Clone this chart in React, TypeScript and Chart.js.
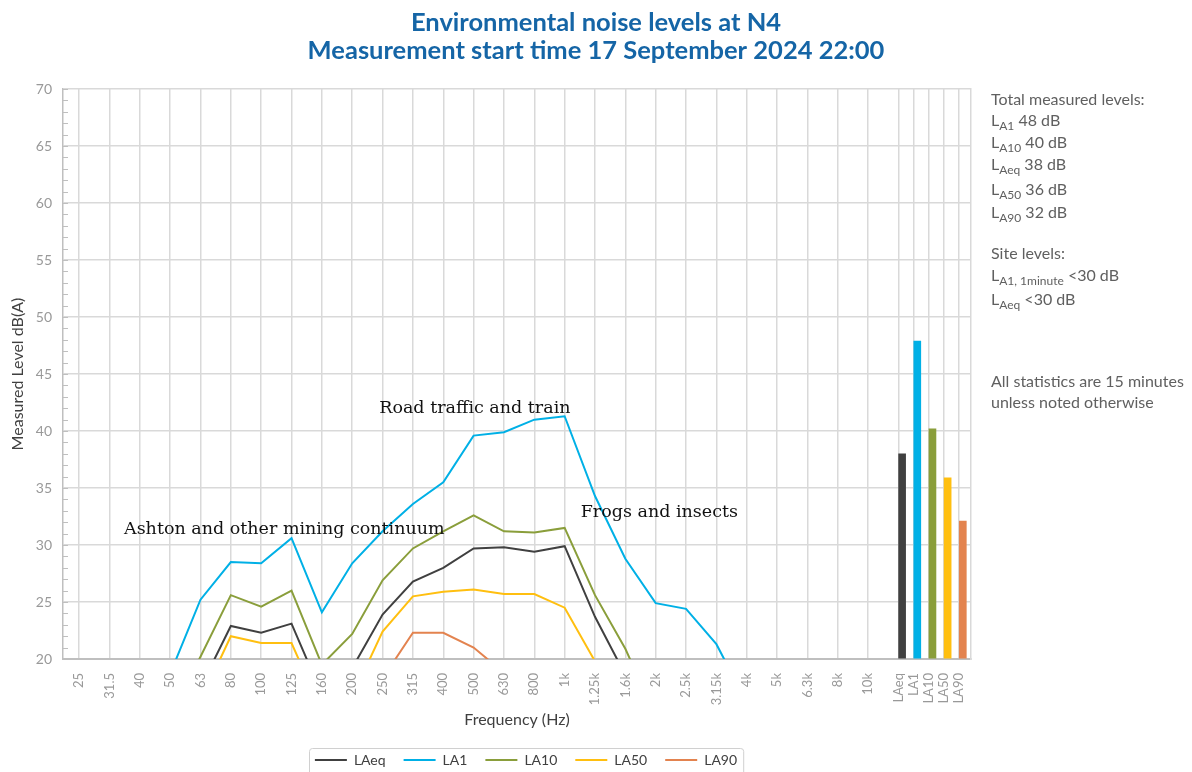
import React, { useEffect, useRef } from "react";
import { Chart, registerables } from "chart.js";

Chart.register(...registerables);

// ---------- data ----------
const freqLabels = [
  "25", "31.5", "40", "50", "63", "80", "100", "125", "160", "200", "250", "315", "400",
  "500", "630", "800", "1k", "1.25k", "1.6k", "2k", "2.5k", "3.15k", "4k", "5k", "6.3k", "8k", "10k",
];
const statLabels = ["LAeq", "LA1", "LA10", "LA50", "LA90"];
const seriesNames = ["LAeq", "LA1", "LA10", "LA50", "LA90"];

const LAeq = [null, null, null, null, 17.5, 22.9, 22.3, 23.1, 16.9, 19.2, 23.9, 26.8, 28.0, 29.7, 29.8, 29.4, 29.9, 23.7, 18.6, null, null, null, null, null, null, null, null];
const LA1 = [null, null, null, 18.7, 25.2, 28.5, 28.4, 30.6, 24.1, 28.4, 31.2, 33.6, 35.5, 39.6, 39.9, 41.0, 41.3, 34.3, 28.8, 24.9, 24.4, 21.3, 16.2, null, null, null, null];
const LA10 = [null, null, null, 15.0, 20.2, 25.6, 24.6, 26.0, 19.5, 22.2, 26.9, 29.7, 31.2, 32.6, 31.2, 31.1, 31.5, 25.6, 20.9, 15.0, null, null, null, null, null, null, null];
const LA50 = [null, null, null, null, 16.3, 22.0, 21.4, 21.4, 15.4, 16.7, 22.4, 25.5, 25.9, 26.1, 25.7, 25.7, 24.5, 19.8, null, null, null, null, null, null, null, null, null];
const LA90 = [null, null, null, null, null, null, null, null, null, null, 18.3, 22.3, 22.3, 21.0, 18.8, null, null, null, null, null, null, null, null, null, null, null, null];
const seriesValues = [LAeq, LA1, LA10, LA50, LA90];

const totalLevels = [38.0, 47.9, 40.2, 35.9, 32.1];

const yMin = 20;
const yMax = 70;
const yStep = 5;

const titleLines = ["Environmental noise levels at N4", "Measurement start time 17 September 2024 22:00"];
const annotationTexts = ["Ashton and other mining continuum", "Road traffic and train", "Frogs and insects"];

// ---------- styling / layout ----------
const seriesColors = ["#404040", "#00b0e6", "#8a9e3b", "#ffbf10", "#e3834f"];
const annotationAnchors = [
  { x: 1.48, y: 30.96 },
  { x: 9.89, y: 41.55 },
  { x: 16.53, y: 32.43 },
];
const gridColor = "#d9d9d9";
const axisLineColor = "#bfbfbf";
const tickColor = "#999999";
const statSpacing = 0.5;
const barShift = 0.12;

const statPositions = statLabels.map((_, k) => freqLabels.length + k * statSpacing);
const tickPositions = [...freqLabels.map((_, i) => i), ...statPositions];
const allLabels = [...freqLabels, ...statLabels];

Chart.defaults.font.family = "Lato";

const minorTickPlugin = {
  id: "minorTicks",
  afterDraw(chart: any) {
    const { ctx, chartArea, scales } = chart;
    const y = scales.y;
    ctx.save();
    ctx.strokeStyle = axisLineColor;
    ctx.lineWidth = 1;
    for (let v = yMin; v <= yMax; v += 1) {
      const py = Math.round(y.getPixelForValue(v)) + 0.5;
      ctx.beginPath();
      ctx.moveTo(chartArea.left, py);
      ctx.lineTo(chartArea.left + 5, py);
      ctx.stroke();
    }
    ctx.restore();
  },
};

const annotationPlugin = {
  id: "annotText",
  afterDatasetsDraw(chart: any) {
    const { ctx, scales } = chart;
    ctx.save();
    ctx.font = '17.5px "DejaVu Serif"';
    ctx.fillStyle = "#111111";
    ctx.textAlign = "left";
    ctx.textBaseline = "alphabetic";
    annotationTexts.forEach((t, i) => {
      ctx.fillText(t, scales.x.getPixelForValue(annotationAnchors[i].x), scales.y.getPixelForValue(annotationAnchors[i].y));
    });
    ctx.restore();
  },
};

const legendShift = 9;
const legendBoxPlugin = {
  id: "legendBox",
  afterLayout(chart: any) {
    const lg = chart.legend;
    if (lg) {
      lg.left += legendShift;
      lg.right += legendShift;
    }
  },
  afterDraw(chart: any) {
    const lg = chart.legend;
    if (!lg || !lg.legendHitBoxes || !lg.legendHitBoxes.length) return;
    const boxes = lg.legendHitBoxes;
    const minL = Math.min(...boxes.map((b: any) => b.left));
    const maxR = Math.max(...boxes.map((b: any) => b.left + b.width));
    const cy = boxes[0].top + boxes[0].height / 2;
    const { ctx } = chart;
    ctx.save();
    ctx.strokeStyle = "#d0d0d0";
    ctx.lineWidth = 1;
    ctx.beginPath();
    (ctx as any).roundRect(Math.round(minL - 6) + 0.5, Math.round(cy - 12) + 0.5, maxR - minL + 12, 40, 3);
    ctx.stroke();
    ctx.restore();
  },
};

const sideLines: { top: number; parts: { L?: string; sub?: string; text: string } }[] = [
  { top: 99, parts: { text: "Total measured levels:" } },
  { top: 120, parts: { L: "L", sub: "A1", text: " 48 dB" } },
  { top: 142, parts: { L: "L", sub: "A10", text: " 40 dB" } },
  { top: 164, parts: { L: "L", sub: "Aeq", text: " 38 dB" } },
  { top: 189, parts: { L: "L", sub: "A50", text: " 36 dB" } },
  { top: 212, parts: { L: "L", sub: "A90", text: " 32 dB" } },
  { top: 253, parts: { text: "Site levels:" } },
  { top: 275, parts: { L: "L", sub: "A1, 1minute", text: " <30 dB" } },
  { top: 299, parts: { L: "L", sub: "Aeq", text: " <30 dB" } },
  { top: 381, parts: { text: "All statistics are 15 minutes" } },
  { top: 402, parts: { text: "unless noted otherwise" } },
];

export default function App() {
  const ref = useRef<HTMLCanvasElement>(null);

  useEffect(() => {
    document.documentElement.style.overflow = "hidden";
    const lineDatasets = seriesValues.map((vals, s) => ({
      type: "line" as const,
      label: seriesNames[s],
      data: vals.map((v, i) => ({ x: i, y: v })),
      borderColor: seriesColors[s],
      backgroundColor: seriesColors[s],
      borderWidth: 2,
      pointRadius: 0,
      tension: 0,
      fill: false,
      spanGaps: false,
    }));
    const barDataset = {
      type: "bar" as const,
      label: "Totals",
      data: totalLevels.map((v, k) => ({ x: statPositions[k] + barShift, y: v })),
      backgroundColor: seriesColors,
      borderWidth: 0,
      barThickness: 7,
      base: yMin,
    };

    const chart = new Chart(ref.current!, {
      type: "line",
      data: { datasets: [...lineDatasets, barDataset] as any },
      options: {
        responsive: false,
        animation: false,
        layout: { padding: 0 },
        scales: {
          x: {
            type: "linear",
            offset: false,
            min: -0.53,
            max: 29.39,
            afterBuildTicks: (s: any) => {
              s.ticks = tickPositions.map((v) => ({ value: v }));
            },
            afterFit: (s: any) => {
              s.height = 76;
            },
            ticks: {
              autoSkip: false,
              minRotation: 90,
              maxRotation: 90,
              padding: 14,
              color: tickColor,
              font: { size: 13 },
              callback: (_v: any, i: number) => allLabels[i],
            },
            grid: { color: gridColor, lineWidth: 1.5, drawTicks: false, offset: false },
            border: { color: axisLineColor, width: 2 },
            title: {
              display: true,
              text: "Frequency (Hz)",
              color: "#404040",
              font: { size: 16 },
              padding: { top: 0, bottom: 6 },
            },
          },
          y: {
            type: "linear",
            min: yMin,
            max: yMax,
            afterFit: (s: any) => {
              s.width = 55;
            },
            ticks: { stepSize: yStep, padding: 11, color: tickColor, font: { size: 14 } },
            grid: { color: gridColor, lineWidth: 1.5, drawTicks: false },
            border: { color: axisLineColor, width: 1.5 },
            title: {
              display: true,
              text: "Measured Level dB(A)",
              color: "#404040",
              font: { size: 16 },
              padding: { top: 0, bottom: 0 },
            },
          },
          yR: {
            type: "linear",
            position: "right",
            display: true,
            afterFit: (s: any) => {
              s.width = 213;
            },
            ticks: { display: false },
            grid: { display: false, drawTicks: false },
            border: { display: true, color: gridColor, width: 1.5 },
          },
        },
        plugins: {
          title: {
            display: true,
            text: titleLines,
            color: "#1565a6",
            font: { size: 25.5, weight: "bold", lineHeight: 1.08 },
            padding: { top: 1, bottom: 25 },
          },
          legend: {
            display: true,
            position: "bottom",
            fullSize: false,
            labels: {
              filter: (item: any) => item.datasetIndex < seriesNames.length,
              usePointStyle: true,
              pointStyle: "line",
              pointStyleWidth: 32,
              padding: 18,
              color: "#404040",
              font: { size: 14 },
            },
          },
          tooltip: { enabled: false },
        },
      } as any,
      plugins: [minorTickPlugin, annotationPlugin, legendBoxPlugin],
    });
    return () => chart.destroy();
  }, []);

  return (
    <div style={{ position: "relative", width: 1176, height: 764, overflow: "hidden" }}>
      <canvas ref={ref} width={1176} height={769} style={{ display: "block" }} />
      {sideLines.map((ln, i) => (
        <div
          key={i}
          style={{
            position: "absolute",
            left: 983,
            top: ln.top - 8 - 10,
            height: 20,
            lineHeight: "20px",
            fontFamily: "Lato",
            fontSize: 16,
            color: "#606060",
            whiteSpace: "nowrap",
          }}
        >
          {ln.parts.L ? <span>{ln.parts.L}</span> : null}
          {ln.parts.sub ? (
            <span style={{ fontSize: "0.75em", position: "relative", top: "0.3em" }}>{ln.parts.sub}</span>
          ) : null}
          <span>{ln.parts.text}</span>
        </div>
      ))}
    </div>
  );
}
